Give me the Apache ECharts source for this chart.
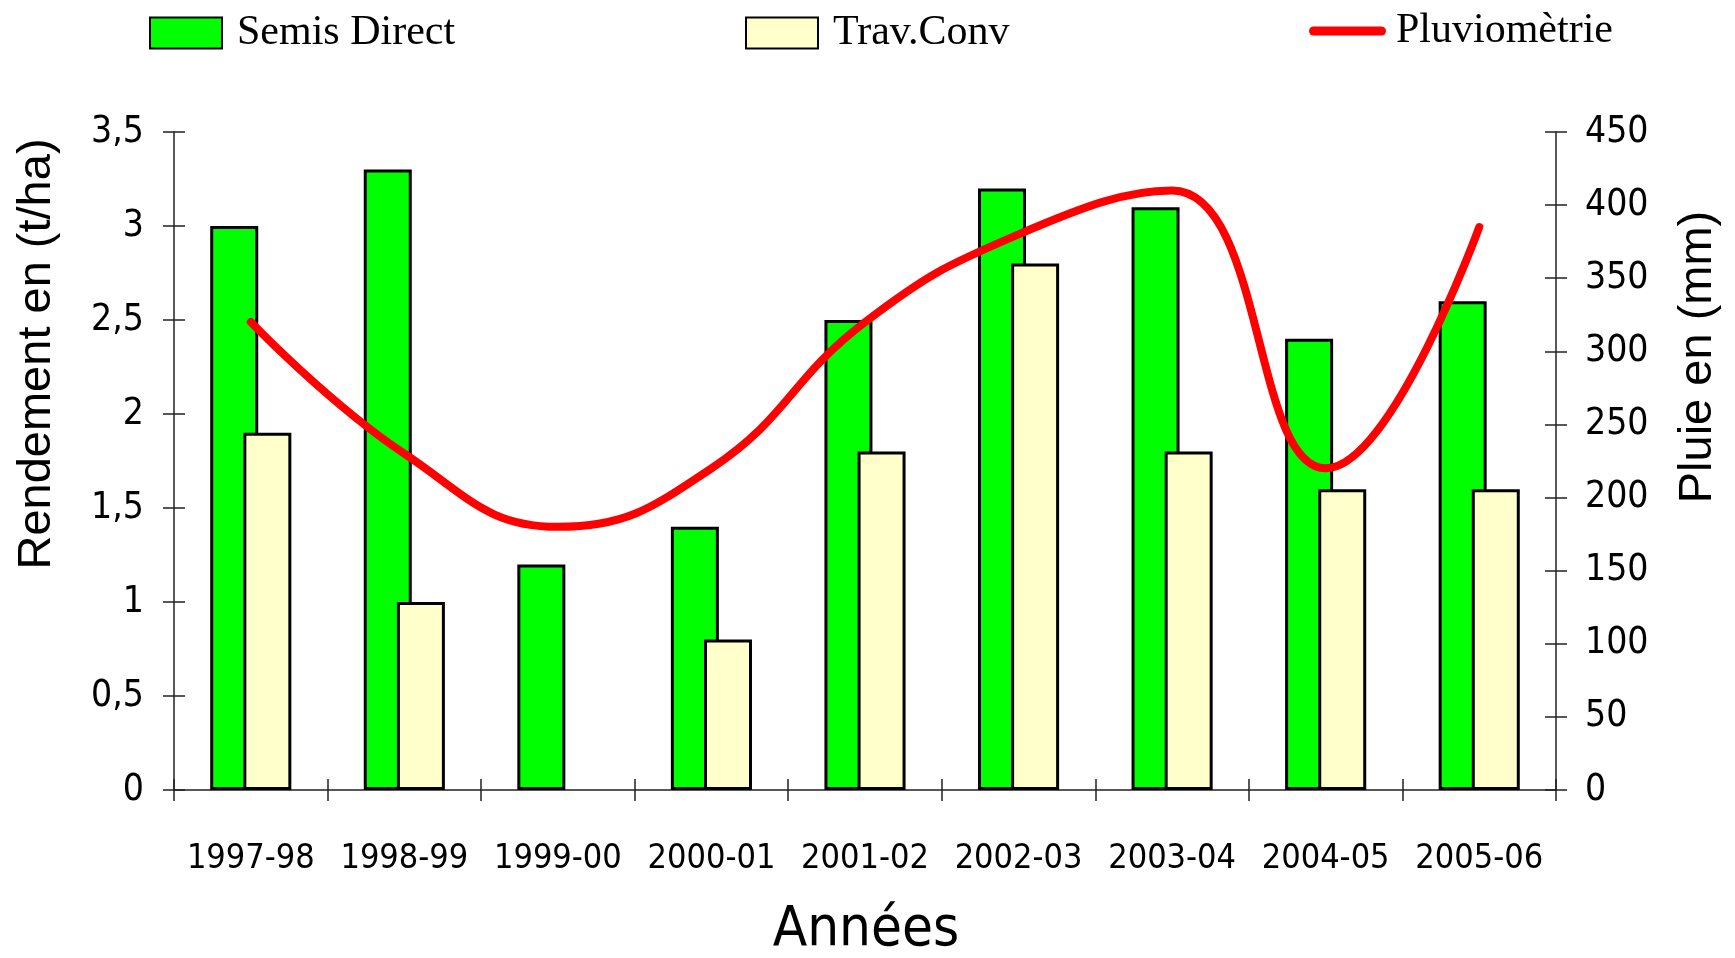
<!DOCTYPE html>
<html>
<head>
<meta charset="utf-8">
<script src="https://cdn.jsdelivr.net/npm/echarts@6/dist/echarts.min.js"></script>
<style>
html,body{margin:0;padding:0;background:#fff;}
#chart{width:1735px;height:958px;}
</style>
</head>
<body>
<div id="chart"></div>
<script>
const categories = ['1997-98','1998-99','1999-00','2000-01','2001-02','2002-03','2003-04','2004-05','2005-06'];
const semisDirect = [3.0, 3.3, 1.2, 1.4, 2.5, 3.2, 3.1, 2.4, 2.6];
const travConv = [1.9, 1.0, null, 0.8, 1.8, 2.8, 1.8, 1.6, 1.6];
const pluviometrie = [320, 230, 180, 220, 320, 380, 410, 220, 385];
const leftTicks = {min: 0, max: 3.5, interval: 0.5};
const rightTicks = {min: 0, max: 450, interval: 50};
const seriesNames = ['Semis Direct', 'Trav.Conv', 'Pluviomètrie'];
const axisTitles = {left: 'Rendement en (t/ha)', right: 'Pluie en (mm)', bottom: 'Années'};

const NARROW = "'Liberation Sans Narrow','Arial Narrow','DejaVu Sans Condensed',sans-serif";
const SANS = "'Liberation Sans',Arial,sans-serif";
const SERIF = "'Liberation Serif','Times New Roman',serif";

const chart = echarts.init(document.getElementById('chart'), null, {renderer: 'canvas'});
const gridPos = {left: 174, right: 179, top: 132, bottom: 168};
const axisCol = '#222';

const legendText = {fontFamily: SERIF, fontSize: 42, color: '#000'};
const option = {
  animation: false,
  backgroundColor: '#fff',
  legend: [
    {data: [{name: seriesNames[0], icon: 'rect'}], left: 149, top: 12, padding: 0, itemWidth: 72, itemHeight: 31, textStyle: Object.assign({padding: [0,0,0,10]}, legendText)},
    {data: [{name: seriesNames[1], icon: 'rect'}], left: 745, top: 12, padding: 0, itemWidth: 72, itemHeight: 31, textStyle: Object.assign({padding: [0,0,0,10]}, legendText)},
    {data: [{name: seriesNames[2], icon: 'path://M4.5,0 L72.5,0 A4.5,4.5 0 0 1 72.5,9 L4.5,9 A4.5,4.5 0 0 1 4.5,0 Z'}], left: 1309, top: 10, padding: 0, itemWidth: 77, itemHeight: 9, itemStyle: {color: '#ff0000'}, textStyle: Object.assign({padding: [0,0,0,5]}, legendText)}
  ],
  grid: [
    Object.assign({}, gridPos),
    Object.assign({}, gridPos)
  ],
  xAxis: [
    {
      type: 'category', data: categories, gridIndex: 0,
      axisLine: {lineStyle: {color: axisCol, width: 1.5}},
      axisTick: {show: true, length: 11, lineStyle: {color: axisCol, width: 1.5}},
      axisLabel: {fontFamily: NARROW, fontSize: 34, color: '#000', margin: 52, interval: 0},
      splitLine: {show: false}
    },
    {
      type: 'category', data: categories, gridIndex: 1,
      axisLine: {show: false},
      axisTick: {show: true, inside: true, length: 11, lineStyle: {color: axisCol, width: 1.5}},
      axisLabel: {show: false}, splitLine: {show: false}
    }
  ],
  yAxis: [
    {
      type: 'value', gridIndex: 0, position: 'left', min: leftTicks.min, max: leftTicks.max, interval: leftTicks.interval,
      axisLine: {show: true, lineStyle: {color: axisCol, width: 1.5}},
      axisTick: {show: true, length: 11, lineStyle: {color: axisCol, width: 1.5}},
      axisLabel: {fontFamily: NARROW, fontSize: 37, color: '#000', margin: 30,
        formatter: v => String(v).replace('.', ',')},
      splitLine: {show: false}
    },
    {
      type: 'value', gridIndex: 0, position: 'right', min: rightTicks.min, max: rightTicks.max, interval: rightTicks.interval,
      axisLine: {show: true, lineStyle: {color: axisCol, width: 1.5}},
      axisTick: {show: true, length: 11, lineStyle: {color: axisCol, width: 1.5}},
      axisLabel: {fontFamily: NARROW, fontSize: 37, color: '#000', margin: 29},
      splitLine: {show: false}
    },
    {
      type: 'value', gridIndex: 1, position: 'left', min: leftTicks.min, max: leftTicks.max, interval: leftTicks.interval,
      axisLine: {show: false},
      axisTick: {show: true, inside: true, length: 11, lineStyle: {color: axisCol, width: 1.5}},
      axisLabel: {show: false}, splitLine: {show: false}
    },
    {
      type: 'value', gridIndex: 1, position: 'right', min: rightTicks.min, max: rightTicks.max, interval: rightTicks.interval,
      axisLine: {show: false},
      axisTick: {show: true, inside: true, length: 11, lineStyle: {color: axisCol, width: 1.5}},
      axisLabel: {show: false}, splitLine: {show: false}
    }
  ],
  series: [
    {
      name: seriesNames[0], type: 'bar', xAxisIndex: 0, yAxisIndex: 0, data: semisDirect,
      barWidth: 48, barGap: '-31%',
      itemStyle: {color: '#00ff00', borderColor: '#000', borderWidth: 3}
    },
    {
      name: seriesNames[1], type: 'bar', xAxisIndex: 0, yAxisIndex: 0, data: travConv,
      barWidth: 48, barGap: '-31%',
      itemStyle: {color: '#ffffcc', borderColor: '#000', borderWidth: 3}
    },
    {
      name: seriesNames[2], type: 'line', xAxisIndex: 0, yAxisIndex: 1, data: pluviometrie,
      smooth: 0.45, symbol: 'none', showSymbol: false, z: 5,
      lineStyle: {color: '#ff0000', width: 8, cap: 'round', join: 'round'},
      itemStyle: {color: '#ff0000'}
    }
  ],
  graphic: [
    {type: 'text', x: 37, y: 354, rotation: Math.PI / 2,
      style: {text: axisTitles.left, font: '47px ' + SANS, fill: '#000', textAlign: 'center', textVerticalAlign: 'middle'}},
    {type: 'text', x: 1698, y: 357, rotation: Math.PI / 2,
      style: {text: axisTitles.right, font: '47px ' + SANS, fill: '#000', textAlign: 'center', textVerticalAlign: 'middle'}},
    {type: 'text', x: 866, y: 930,
      style: {text: axisTitles.bottom, font: '56px ' + NARROW, fill: '#000', textAlign: 'center', textVerticalAlign: 'middle'}}
  ]
};
chart.setOption(option);
</script>
</body>
</html>
